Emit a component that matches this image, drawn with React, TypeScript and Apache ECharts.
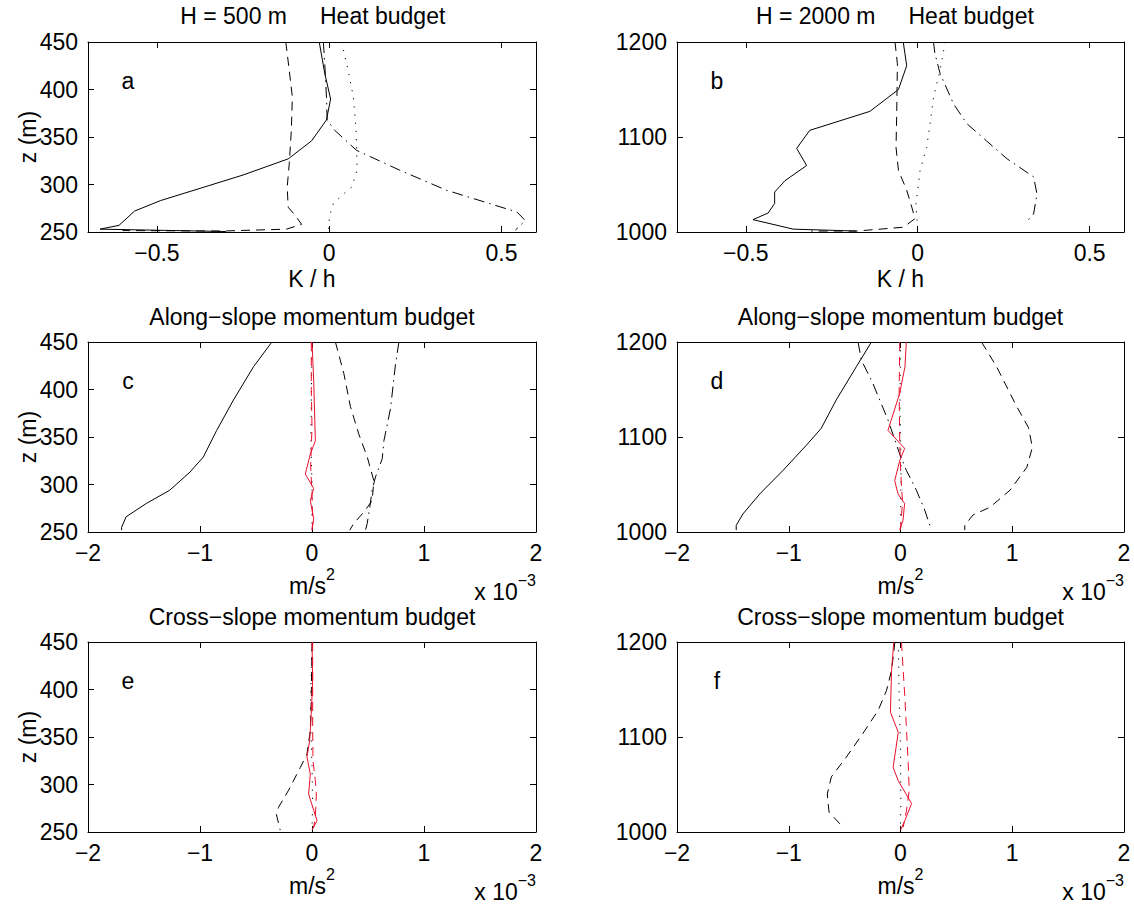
import React, { useEffect, useRef } from "react";
import * as echarts from "echarts";

// ---------- Panel a: H = 500 m, heat budget (K/h vs z m) ----------
const aSolid = [[-0.029, 450], [-0.013, 417], [0.004, 390], [-0.008, 368], [-0.051, 346], [-0.119, 327], [-0.25, 310], [-0.49, 283], [-0.565, 272], [-0.61, 257], [-0.665, 253], [-0.3, 250.5]];
const aDashed = [[-0.126, 450], [-0.116, 420], [-0.107, 392], [-0.11, 357], [-0.116, 322], [-0.122, 297], [-0.119, 276], [-0.1, 268], [-0.08, 258], [-0.124, 253], [-0.31, 251], [-0.6, 251.5]];
const aDotted = [[0.036, 450], [0.055, 420], [0.07, 392], [0.078, 357], [0.081, 315], [0.065, 297], [0.041, 290], [0.012, 280], [0.002, 268], [-0.003, 255], [0, 252]];
const aDashDot = [[-0.017, 450], [-0.013, 427], [-0.008, 392], [-0.006, 368], [0.016, 357], [0.079, 336], [0.205, 315], [0.34, 294], [0.545, 271], [0.569, 262], [0.54, 252]];

// ---------- Panel b: H = 2000 m, heat budget ----------
const bSolid = [[-0.042, 1200], [-0.032, 1175], [-0.056, 1150], [-0.139, 1127], [-0.314, 1107], [-0.352, 1088], [-0.323, 1070], [-0.386, 1054], [-0.416, 1042], [-0.416, 1030], [-0.435, 1020], [-0.479, 1013], [-0.362, 1003], [-0.178, 1001]];
const bDashed = [[-0.066, 1200], [-0.059, 1177], [-0.061, 1125], [-0.063, 1089], [-0.056, 1065], [-0.032, 1044], [-0.017, 1026], [-0.008, 1014], [-0.042, 1005], [-0.178, 1001], [-0.31, 1001]];
const bDotted = [[0.08, 1200], [0.065, 1170], [0.046, 1142], [0.036, 1114], [0.026, 1089], [0.007, 1065], [-0.005, 1030], [0, 1002]];
const bDashDot = [[0.046, 1200], [0.05, 1188], [0.065, 1167], [0.104, 1135], [0.143, 1114], [0.2, 1096], [0.26, 1077], [0.337, 1058], [0.347, 1040], [0.337, 1019], [0.313, 1009]];

// ---------- Panel c: H = 500 m, along-slope momentum (x 1e-3 m/s^2) ----------
const cSolid = [[-0.358, 450], [-0.522, 424], [-0.701, 389], [-0.851, 357], [-0.97, 329], [-1.09, 313], [-1.27, 294], [-1.48, 280], [-1.66, 266], [-1.7, 255], [-1.7, 252]];
const cDashed = [[0.209, 450], [0.284, 417], [0.343, 382], [0.418, 353], [0.493, 329], [0.552, 304], [0.537, 283], [0.463, 271], [0.373, 259], [0.337, 252]];
const cDashDot = [[0.776, 450], [0.746, 427], [0.701, 380], [0.642, 346], [0.627, 327], [0.567, 308], [0.537, 294], [0.516, 276], [0.493, 259], [0.478, 252]];
const cDotted = [[0, 450], [-0.005, 400], [-0.01, 350], [0, 300], [0, 252]];
const cRed = [[0, 450], [0.015, 410], [0.03, 346], [-0.015, 332], [-0.06, 311], [0.015, 296], [-0.015, 283], [0.015, 264], [0, 252]];
const cRedDashed = [[-0.006, 450], [-0.006, 400], [0, 360], [-0.012, 320], [0, 290], [0.006, 260], [0, 252]];

// ---------- Panel d: H = 2000 m, along-slope momentum ----------
const dSolid = [[-0.26, 1200], [-0.395, 1174], [-0.575, 1139], [-0.71, 1109], [-0.845, 1091], [-1.05, 1065], [-1.26, 1040], [-1.41, 1019], [-1.47, 1007], [-1.47, 1002]];
const dDashed = [[0.725, 1200], [0.86, 1174], [1.04, 1132], [1.145, 1110], [1.18, 1089], [1.13, 1068], [0.98, 1044], [0.8, 1026], [0.65, 1018], [0.575, 1007], [0.575, 1002]];
const dDashDot = [[-0.38, 1200], [-0.35, 1181], [-0.246, 1156], [-0.112, 1118], [-0.007, 1082], [0.052, 1065], [0.142, 1044], [0.217, 1023], [0.277, 1002]];
const dDotted = [[0, 1200], [-0.005, 1130], [0.005, 1070], [0, 1002]];
const dRed = [[0.052, 1200], [0.04, 1174], [-0.007, 1146], [-0.112, 1107], [0.037, 1088], [-0.007, 1075], [-0.052, 1054], [-0.022, 1040], [0.037, 1030], [0.022, 1012], [-0.007, 1002]];
const dRedDashed = [[-0.007, 1200], [-0.012, 1147], [-0.007, 1095], [0.003, 1060], [0.018, 1032], [0, 1002]];

// ---------- Panel e: H = 500 m, cross-slope momentum ----------
const eDashed = [[0, 450], [-0.006, 392], [-0.015, 357], [-0.045, 332], [-0.104, 318], [-0.209, 294], [-0.299, 276], [-0.319, 269], [-0.284, 252]];
const eDotted = [[0, 450], [-0.015, 375], [0, 320], [0.005, 280], [0, 252]];
const eRed = [[0, 450], [0.006, 410], [-0.006, 375], [-0.021, 346], [-0.045, 329], [-0.015, 311], [-0.03, 290], [0.015, 273], [0.045, 262], [0, 252]];
const eRedDashed = [[0.006, 450], [0.006, 360], [0.009, 325], [0.03, 304], [0.039, 290], [0.03, 266], [0.015, 255]];

// ---------- Panel f: H = 2000 m, cross-slope momentum ----------
const fDashed = [[-0.05, 1200], [-0.08, 1170], [-0.125, 1149], [-0.2, 1128], [-0.335, 1104], [-0.484, 1079], [-0.619, 1058], [-0.655, 1040], [-0.64, 1021], [-0.514, 1005]];
const fDotted = [[-0.02, 1200], [-0.012, 1142], [0, 1089], [0.003, 1037], [0, 1002]];
const fRed = [[-0.06, 1200], [-0.08, 1170], [-0.09, 1126], [-0.02, 1105], [-0.066, 1068], [-0.02, 1054], [0.099, 1030], [0.039, 1012], [0, 1002]];
const fRedDashed = [[0.009, 1200], [0.024, 1170], [0.039, 1142], [0.054, 1107], [0.069, 1072], [0.078, 1044], [0.054, 1023], [0.024, 1005]];

// ---------- Axis ticks ----------
const heatTicks = [-0.5, 0, 0.5];
const heatRange = [-0.7, 0.6];
const momRange = [-2, 2];
const z500Range = [250, 450];
const z2000Range = [1000, 1200];

const panelLetters = ["a", "b", "c", "d", "e", "f"];
const topTitles = [["H = 500 m", "Heat budget"], ["H = 2000 m", "Heat budget"]];
const rowTitles = ["Along\u2212slope momentum budget", "Cross\u2212slope momentum budget"];

const FONT = "'Liberation Sans', Arial, Helvetica, sans-serif";
const RED = "#e8112d";
const BLACK = "#000";
const DASH = [9, 6];
const DOT = [1.2, 7];
const DASHDOT = [11, 5, 1.5, 5];
const FS = 23;

const colLeft = [88, 677];
const colWidth = [448, 447];
const rowTop = [42, 342, 642];
const H = 190;

const minus = (v: number) => String(v).replace("-", "\u2212");
const plain = (v: number) => String(v);

export default function App() {
  const ref = useRef<HTMLDivElement>(null);
  useEffect(() => {
    const chart = echarts.init(ref.current!, null, { renderer: "svg" });

    const grids: any[] = [];
    const xAxes: any[] = [];
    const yAxes: any[] = [];
    const series: any[] = [];
    const graphics: any[] = [];

    const axisLine = { show: true, onZero: false, lineStyle: { color: BLACK, width: 1 } };
    const tick = { show: true, inside: true, length: 6, lineStyle: { color: BLACK, width: 1 } };
    const label = { color: BLACK, fontSize: FS, fontFamily: FONT };

    const panelSeries = [
      [[aSolid, BLACK, "solid"], [aDashed, BLACK, DASH], [aDotted, BLACK, DOT], [aDashDot, BLACK, DASHDOT]],
      [[bSolid, BLACK, "solid"], [bDashed, BLACK, DASH], [bDotted, BLACK, DOT], [bDashDot, BLACK, DASHDOT]],
      [[cSolid, BLACK, "solid"], [cDashed, BLACK, DASH], [cDashDot, BLACK, DASHDOT], [cDotted, BLACK, DOT], [cRedDashed, RED, DASH], [cRed, RED, "solid"]],
      [[dSolid, BLACK, "solid"], [dDashed, BLACK, DASH], [dDashDot, BLACK, DASHDOT], [dDotted, BLACK, DOT], [dRedDashed, RED, DASH], [dRed, RED, "solid"]],
      [[eDashed, BLACK, DASH], [eDotted, BLACK, DOT], [eRedDashed, RED, DASH], [eRed, RED, "solid"]],
      [[fDashed, BLACK, DASH], [fDotted, BLACK, DOT], [fRedDashed, RED, DASH], [fRed, RED, "solid"]],
    ];

    for (let p = 0; p < 6; p++) {
      const row = Math.floor(p / 2);
      const col = p % 2;
      grids.push({ left: colLeft[col], top: rowTop[row], width: colWidth[col], height: H, containLabel: false });
      const isHeat = row === 0;
      const xr = isHeat ? heatRange : momRange;
      const yr = col === 0 ? z500Range : z2000Range;
      const yInt = col === 0 ? 50 : 100;
      const xBase: any = { type: "value", gridIndex: p, min: xr[0], max: xr[1], splitLine: { show: false }, axisLine };
      if (isHeat) {
        xAxes.push({ ...xBase, position: "bottom", axisTick: { ...tick, customValues: heatTicks }, axisLabel: { ...label, margin: 9, customValues: heatTicks, formatter: minus } });
        xAxes.push({ ...xBase, position: "top", axisTick: { ...tick, customValues: heatTicks }, axisLabel: { show: false } });
      } else {
        xAxes.push({ ...xBase, interval: 1, position: "bottom", axisTick: tick, axisLabel: { ...label, margin: 9, showMinLabel: true, showMaxLabel: true, formatter: minus } });
        xAxes.push({ ...xBase, interval: 1, position: "top", axisTick: tick, axisLabel: { show: false } });
      }
      const yBase: any = { type: "value", gridIndex: p, min: yr[0], max: yr[1], interval: yInt, splitLine: { show: false }, axisLine, axisTick: tick };
      yAxes.push({ ...yBase, position: "left", axisLabel: { ...label, margin: 10, showMinLabel: true, showMaxLabel: true, formatter: plain } });
      yAxes.push({ ...yBase, position: "right", axisLabel: { show: false } });

      for (const [data, color, type] of panelSeries[p] as any[]) {
        series.push({
          type: "line",
          data,
          xAxisIndex: p * 2,
          yAxisIndex: p * 2,
          showSymbol: false,
          symbol: "none",
          silent: true,
          clip: true,
          lineStyle: { color, width: 1, type },
        });
      }

      const cx = colLeft[col] + colWidth[col] / 2;
      const right = colLeft[col] + colWidth[col];
      const bottom = rowTop[row] + H;

      // Panel letter
      graphics.push({
        type: "text",
        x: colLeft[col] + 40,
        y: rowTop[row] + 39,
        style: { text: panelLetters[p], font: `${FS}px ${FONT}`, fill: BLACK, textAlign: "center", textVerticalAlign: "middle" },
      });

      // Titles
      if (row === 0) {
        graphics.push({
          type: "text", x: cx - 25, y: rowTop[row] - 26,
          style: { text: topTitles[col][0], font: `${FS}px ${FONT}`, fill: BLACK, textAlign: "right", textVerticalAlign: "middle" },
        });
        graphics.push({
          type: "text", x: cx + 8, y: rowTop[row] - 26,
          style: { text: topTitles[col][1], font: `${FS}px ${FONT}`, fill: BLACK, textAlign: "left", textVerticalAlign: "middle" },
        });
      } else {
        graphics.push({
          type: "text", x: cx, y: rowTop[row] - 25,
          style: { text: rowTitles[row - 1], font: `${FS}px ${FONT}`, fill: BLACK, textAlign: "center", textVerticalAlign: "middle" },
        });
      }

      // x-axis names
      if (isHeat) {
        graphics.push({
          type: "text", x: cx, y: bottom + 47,
          style: { text: "K / h", font: `${FS}px ${FONT}`, fill: BLACK, textAlign: "center", textVerticalAlign: "middle" },
        });
      } else {
        graphics.push({
          type: "text", x: cx, y: bottom + 50,
          style: {
            text: "{n|m/s}{s|2}",
            textAlign: "center",
            textVerticalAlign: "middle",
            rich: {
              n: { fontSize: FS, fontFamily: FONT, fill: BLACK, lineHeight: 31, verticalAlign: "bottom" },
              s: { fontSize: 16, fontFamily: FONT, fill: BLACK, lineHeight: 16, verticalAlign: "top" },
            },
          },
        });
        graphics.push({
          type: "text", x: right, y: bottom + 56,
          style: {
            text: "{n|x 10}{s|\u22123}",
            textAlign: "right",
            textVerticalAlign: "middle",
            rich: {
              n: { fontSize: FS, fontFamily: FONT, fill: BLACK, lineHeight: 31, verticalAlign: "bottom" },
              s: { fontSize: 16, fontFamily: FONT, fill: BLACK, lineHeight: 16, verticalAlign: "top" },
            },
          },
        });
      }

      // y-axis name
      if (col === 0) {
        graphics.push({
          type: "text", x: 28, y: rowTop[row] + H / 2, rotation: Math.PI / 2,
          style: { text: "z (m)", font: `${FS}px ${FONT}`, fill: BLACK, textAlign: "center", textVerticalAlign: "middle" },
        });
      }
    }

    chart.setOption({
      animation: false,
      backgroundColor: "#fff",
      grid: grids,
      xAxis: xAxes,
      yAxis: yAxes,
      series,
      graphic: { elements: graphics },
    });
    return () => chart.dispose();
  }, []);
  return <div ref={ref} style={{ position: "absolute", left: 0, top: 0, width: 1134, height: 906, background: "#fff" }} />;
}
